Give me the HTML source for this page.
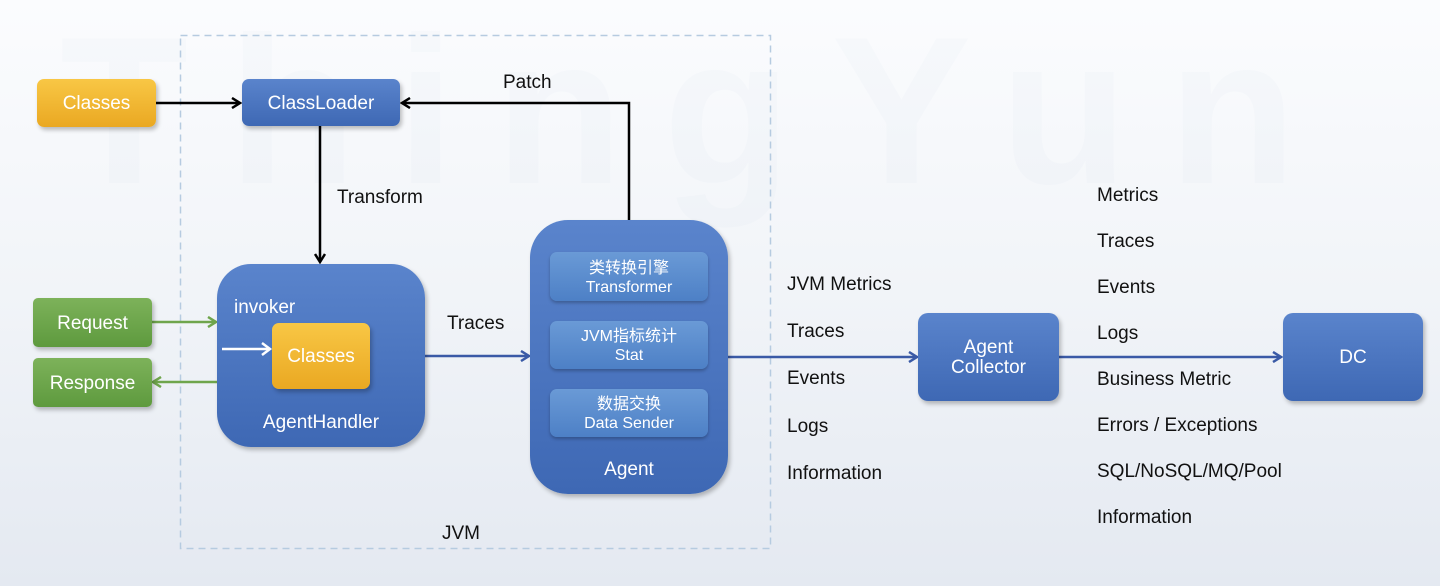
<!DOCTYPE html>
<html><head><meta charset="utf-8"><style>
body{margin:0;width:1440px;height:586px;overflow:hidden;background:linear-gradient(#fbfcfe 0%,#f1f4f8 50%,#e4e9f1 100%);font-family:"Liberation Sans","Noto Sans CJK SC",sans-serif;position:relative}
.b{position:absolute;display:flex;align-items:center;justify-content:center;color:#fff;font-size:19px;box-sizing:border-box;text-align:center;line-height:20px;padding-top:2px}
.blue{background:linear-gradient(#5a84cc,#3e68b4);border-radius:7px;box-shadow:2px 3px 4px rgba(0,0,0,.25)}
.yel{background:linear-gradient(#f8c745,#eaa822);border-radius:7px;box-shadow:2px 3px 4px rgba(0,0,0,.25)}
.grn{background:linear-gradient(#7db25a,#5e9a3e);border-radius:5px;box-shadow:2px 3px 4px rgba(0,0,0,.25)}
.in{background:linear-gradient(#6a9ad6,#4d80c6);border-radius:7px;box-shadow:0 2px 3px rgba(0,0,0,.25);font-size:16px;line-height:19px;flex-direction:column}
.t{position:absolute;font-size:19px;color:#111;white-space:nowrap;line-height:20px}
.wm{position:absolute;font-size:210px;font-weight:bold;color:rgba(200,210,225,.07);top:-10px;left:60px;letter-spacing:40px}
</style></head><body>
<div class="wm">ThingYun</div>
<svg width="1440" height="586" style="position:absolute;left:0;top:0">
<defs>
<marker id="k" markerWidth="12" markerHeight="12" refX="10" refY="6" orient="auto" markerUnits="userSpaceOnUse"><path d="M2 1 L10 6 L2 11" fill="none" stroke="#000" stroke-width="2.5"/></marker>
<marker id="bl" markerWidth="12" markerHeight="12" refX="10" refY="6" orient="auto" markerUnits="userSpaceOnUse"><path d="M2 1 L10 6 L2 11" fill="none" stroke="#3a5aa6" stroke-width="2.5"/></marker>
<marker id="g" markerWidth="12" markerHeight="12" refX="10" refY="6" orient="auto" markerUnits="userSpaceOnUse"><path d="M2 1 L10 6 L2 11" fill="none" stroke="#6fa54c" stroke-width="2.5"/></marker>
</defs>
<rect x="180.5" y="35.5" width="590" height="513" fill="none" stroke="#b6cbe0" stroke-width="1.5" stroke-dasharray="7 5"/>
<line x1="156" y1="103" x2="240" y2="103" stroke="#000" stroke-width="2.5" marker-end="url(#k)"/>
<polyline points="629,220 629,103 402,103" fill="none" stroke="#000" stroke-width="2.5" marker-end="url(#k)"/>
<line x1="320" y1="126" x2="320" y2="262" stroke="#000" stroke-width="2.5" marker-end="url(#k)"/>
<line x1="152" y1="322" x2="216" y2="322" stroke="#6fa54c" stroke-width="2.5" marker-end="url(#g)"/>
<line x1="217" y1="382" x2="153" y2="382" stroke="#6fa54c" stroke-width="2.5" marker-end="url(#g)"/>
<line x1="425" y1="356" x2="529" y2="356" stroke="#3a5aa6" stroke-width="2.5" marker-end="url(#bl)"/>
<line x1="728" y1="357" x2="917" y2="357" stroke="#3a5aa6" stroke-width="2.5" marker-end="url(#bl)"/>
<line x1="1059" y1="357" x2="1281" y2="357" stroke="#3a5aa6" stroke-width="2.5" marker-end="url(#bl)"/>
</svg>
<div class="b yel" style="left:37px;top:79px;width:119px;height:48px">Classes</div>
<div class="b blue" style="left:242px;top:79px;width:158px;height:47px">ClassLoader</div>
<div class="b grn" style="left:33px;top:298px;width:119px;height:49px">Request</div>
<div class="b grn" style="left:33px;top:358px;width:119px;height:49px">Response</div>
<div class="b blue" style="left:217px;top:264px;width:208px;height:183px;border-radius:34px"></div>
<div class="t" style="left:234px;top:298px;color:#fff">invoker</div>
<svg width="60" height="14" style="position:absolute;left:222px;top:342px"><line x1="0" y1="7" x2="48" y2="7" stroke="#fff" stroke-width="2.5"/><path d="M40 1 L48 7 L40 13" fill="none" stroke="#fff" stroke-width="2.5"/></svg>
<div class="b yel" style="left:272px;top:323px;width:98px;height:66px">Classes</div>
<div class="t" style="left:217px;width:208px;text-align:center;top:413px;color:#fff">AgentHandler</div>
<div class="b blue" style="left:530px;top:220px;width:198px;height:274px;border-radius:38px"></div>
<div class="b in" style="left:550px;top:252px;width:158px;height:49px">类转换引擎<br>Transformer</div>
<div class="b in" style="left:550px;top:321px;width:158px;height:48px">JVM指标统计<br>Stat</div>
<div class="b in" style="left:550px;top:389px;width:158px;height:48px">数据交换<br>Data Sender</div>
<div class="t" style="left:530px;width:198px;text-align:center;top:460px;color:#fff">Agent</div>
<div class="b blue" style="left:918px;top:313px;width:141px;height:88px;border-radius:10px">Agent<br>Collector</div>
<div class="b blue" style="left:1283px;top:313px;width:140px;height:88px;border-radius:10px">DC</div>
<div class="t" style="left:503px;top:73px">Patch</div>
<div class="t" style="left:337px;top:188px">Transform</div>
<div class="t" style="left:447px;top:314px">Traces</div>
<div class="t" style="left:442px;top:524px">JVM</div>
<div class="t" style="left:787px;top:275px">JVM Metrics</div>
<div class="t" style="left:787px;top:322px">Traces</div>
<div class="t" style="left:787px;top:369px">Events</div>
<div class="t" style="left:787px;top:417px">Logs</div>
<div class="t" style="left:787px;top:464px">Information</div>
<div class="t" style="left:1097px;top:186px">Metrics</div>
<div class="t" style="left:1097px;top:232px">Traces</div>
<div class="t" style="left:1097px;top:278px">Events</div>
<div class="t" style="left:1097px;top:324px">Logs</div>
<div class="t" style="left:1097px;top:370px">Business Metric</div>
<div class="t" style="left:1097px;top:416px">Errors / Exceptions</div>
<div class="t" style="left:1097px;top:462px">SQL/NoSQL/MQ/Pool</div>
<div class="t" style="left:1097px;top:508px">Information</div>
</body></html>
